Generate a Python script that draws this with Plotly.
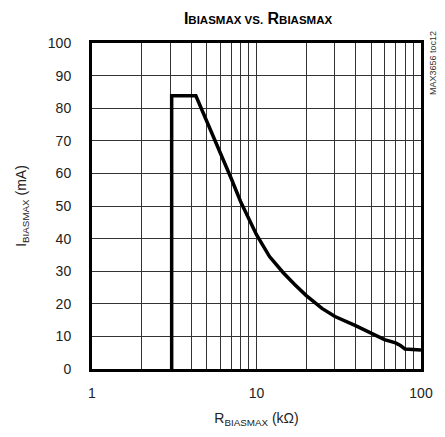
import plotly.graph_objects as go

r_kohm = [3.05, 3.05, 4.28, 5.0, 5.74, 6.0, 7.0, 8.0, 9.0, 10.0, 12.0, 14.5, 17.0, 20.0, 25.0, 30.0, 40.0, 50.0, 60.0, 70.0, 75.0, 80.0, 90.0, 100.0]
i_ma = [0, 83.8, 83.8, 75.9, 69.1, 67.0, 58.6, 51.4, 45.8, 41.2, 34.5, 29.6, 26.0, 22.6, 18.6, 16.1, 13.3, 10.8, 9.0, 8.0, 7.2, 6.1, 5.8, 5.8]

x_major = [1, 10, 100]
x_minor = [2, 3, 4, 5, 6, 7, 8, 9, 20, 30, 40, 50, 60, 70, 80, 90]
y_ticks = list(range(0, 101, 10))

FONT = "Liberation Sans, Arial, sans-serif"

# the page body has an 8px margin; shrink the figure so the plot lands where the reference has it
OFF = 8

fig = go.Figure()
fig.add_trace(go.Scatter(x=r_kohm, y=i_ma, mode="lines",
                         line=dict(color="black", width=3.5), showlegend=False))

fig.update_layout(
    width=445 - OFF, height=437 - OFF,
    margin=dict(l=92 - OFF, r=24, t=43 - OFF, b=66),
    paper_bgcolor="white", plot_bgcolor="white",
    font=dict(family=FONT, size=14, color="#222"),
    title=dict(
        text="<b>I<span style='font-size:11.5px'>BIASMAX VS.</span> R<span style='font-size:11.5px'>BIASMAX</span></b>",
        x=(258 - OFF) / (445 - OFF), xanchor="center",
        y=1 - (18 - OFF) / (437 - OFF), yanchor="middle",
        font=dict(family=FONT, size=16, color="black")),
    xaxis=dict(type="log", range=[0, 2], tickvals=x_major,
               showgrid=True, gridcolor="#333", gridwidth=1,
               minor=dict(tickvals=x_minor, showgrid=True, gridcolor="#333", gridwidth=1, ticks=""),
               showline=True, linecolor="black", linewidth=3, mirror=True,
               ticks="", ticklabelstandoff=9, zeroline=False,
               title=dict(text="R<sub>BIASMAX</sub> (kΩ)", standoff=14,
                          font=dict(size=14, color="#222"))),
    yaxis=dict(range=[0, 100], tickvals=y_ticks,
               showgrid=True, gridcolor="#333", gridwidth=1,
               showline=True, linecolor="black", linewidth=3, mirror=True,
               ticks="", ticklabelstandoff=15, zeroline=False,
               title=dict(text="I<sub>BIASMAX</sub> (mA)", standoff=18,
                          font=dict(size=14, color="#222"))),
    annotations=[dict(text="MAX3656 toc12", x=1.0, y=1.0, xref="paper", yref="paper",
                      xanchor="left", yanchor="top", xshift=5, yshift=14, textangle=-90,
                      showarrow=False, font=dict(family=FONT, size=9, color="#333"))],
)

fig.write_html("out.html")
